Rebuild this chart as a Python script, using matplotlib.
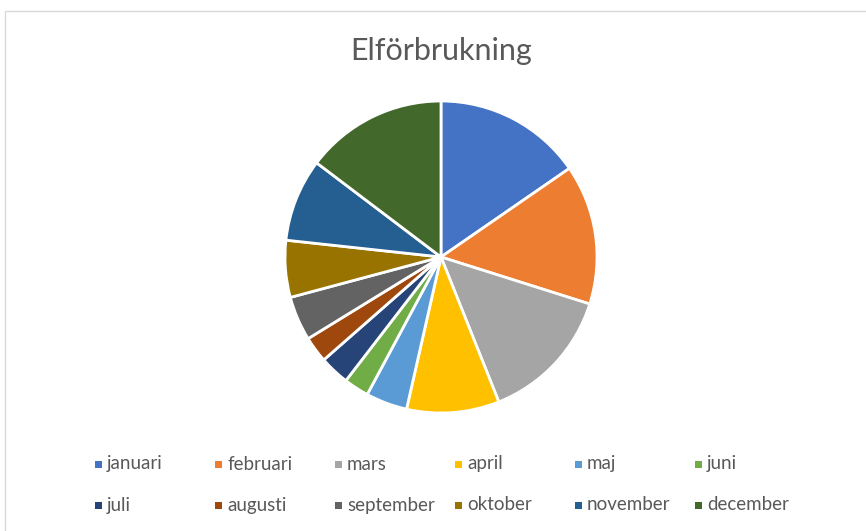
import matplotlib.pyplot as plt
from matplotlib.patches import Rectangle

months = ['januari', 'februari', 'mars', 'april', 'maj', 'juni',
          'juli', 'augusti', 'september', 'oktober', 'november', 'december']
usage = [15.4, 14.5, 14.1, 9.6, 4.3, 2.6, 3.1, 2.7, 4.6, 5.9, 8.6, 14.7]
colors = ['#4472C4', '#ED7D31', '#A5A5A5', '#FFC000', '#5B9BD5', '#70AD47',
          '#264478', '#9E480E', '#636363', '#997300', '#255E91', '#43682B']

W, H = 866, 531
fig = plt.figure(figsize=(W / 100, H / 100), dpi=100)
plt.rcParams['font.family'] = ['Lato', 'DejaVu Sans']

# chart border (only top/left visible in the crop)
fig.add_artist(Rectangle((5 / W, -0.1), 1.2, 1 - 11 / H + 0.1, transform=fig.transFigure,
                         fill=False, edgecolor='#D9D9D9', linewidth=1))

cx, cy, r = 441, 257, 156
ax = fig.add_axes([(cx - r) / W, (H - cy - r) / H, 2 * r / W, 2 * r / H])
ax.pie(usage, colors=colors, startangle=90, counterclock=False,
       wedgeprops=dict(edgecolor='white', linewidth=2))
ax.set_xlim(-1, 1)
ax.set_ylim(-1, 1)
ax.set_aspect('auto')
ax.axis('off')

fig.text(cx / W, 1 - 51 / H, 'Elförbrukning', ha='center', va='center',
         fontsize=22, color='#595959')

# legend, 2 rows x 6 columns
for i, (name, col) in enumerate(zip(months, colors)):
    x = 95 + 120 * (i % 6)
    y = 464 if i < 6 else 505
    fig.add_artist(Rectangle((x / W, 1 - (y + 4) / H), 7 / W, 7 / H,
                             transform=fig.transFigure, facecolor=col, edgecolor='none'))
    fig.text((x + 12) / W, 1 - y / H, name, ha='left', va='center',
             fontsize=13.5, color='#595959')

fig.savefig('out.png', dpi=100)
